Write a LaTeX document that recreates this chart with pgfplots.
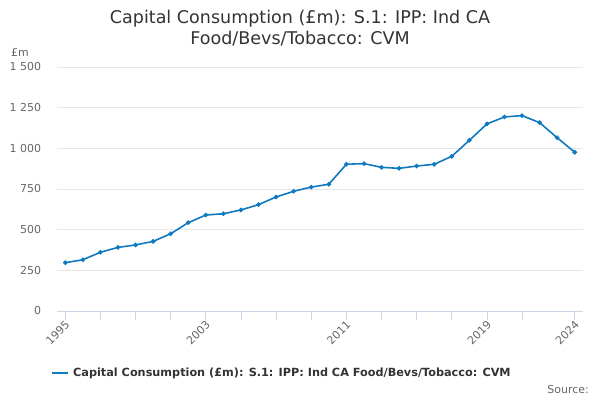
\documentclass[border=0pt]{standalone}
\usepackage{pgfplots}
\pgfplotsset{compat=1.18}
\usepackage{fontspec}
\setmainfont{DejaVu Sans}
\definecolor{linec}{HTML}{0F7AC0}
\definecolor{gridc}{HTML}{E6E6E6}
\definecolor{axisc}{HTML}{CCD6EB}
\definecolor{labc}{HTML}{666666}
\definecolor{titc}{HTML}{333333}
\begin{document}
\begin{tikzpicture}
\path[use as bounding box] (0bp,0bp) rectangle (600bp,400bp);
\begin{axis}[
  at={(57.3bp,89bp)}, anchor=origin,
  scale only axis, width=525.7bp, height=244bp,
  xmin=1994.545, xmax=2024.47, ymin=0, ymax=1500,
  axis x line*=bottom,
  x axis line style={draw=axisc, line width=0.8pt, -},
  axis y line*=left,
  y axis line style={draw=none},
  ytick={0,250,500,750,1000,1250,1500},
  yticklabels={0,250,500,750,1 000,1 250,1 500},
  ymajorgrids, grid style={gridc, line width=0.8pt},
  ytick style={draw=none},
  xtick={1995,2003,2011,2019,2024},
  xticklabels={1995,2003,2011,2019,2024},
  minor xtick={1997,1999,2001,2005,2007,2009,2013,2015,2017,2021},
  xtick style={axisc, line width=0.8pt},
  minor x tick style={axisc, line width=0.8pt},
  tick align=outside, major tick length=9bp, minor tick length=9bp,
  xticklabel style={rotate=45, anchor=north east, font=\fontsize{11}{12}\selectfont, text=labc, inner sep=1pt, xshift=0.5pt, yshift=1.5pt},
  yticklabel style={font=\fontsize{11}{12}\selectfont, text=labc, inner sep=0pt, xshift=-7bp},
  /pgf/number format/assume math mode=true,
  clip=false,
]
\addplot[linec, line width=1.6pt, mark=*, mark size=1.4pt] coordinates {
(1995,297) (1996,315) (1997,361) (1998,391) (1999,406) (2000,428)
(2001,475) (2002,543) (2003,590) (2004,598) (2005,621) (2006,654)
(2007,701) (2008,736) (2009,762) (2010,779) (2011,902) (2012,906)
(2013,883) (2014,877) (2015,891) (2016,902) (2017,951) (2018,1049)
(2019,1150) (2020,1193) (2021,1201) (2022,1158) (2023,1065) (2024,976)
};
\end{axis}
\node[font=\fontsize{17.6}{21}\selectfont, text=titc, align=center] at (300bp,371.5bp) {Capital Consumption (£m): S.1: IPP: Ind CA\\Food/Bevs/Tobacco: CVM};
\node[font=\fontsize{11}{12}\selectfont, text=labc, anchor=west, inner sep=0pt] at (11bp,348bp) {£m};
\draw[linec, line width=1.6pt] (52bp,27bp) -- (68bp,27bp);
\fill[linec] (60bp,27bp) circle (1.4pt);
\node[font=\bfseries\fontsize{11.3}{14}\selectfont, text=titc, anchor=west, inner sep=0pt] at (73bp,27bp) {Capital Consumption (£m): S.1: IPP: Ind CA Food/Bevs/Tobacco: CVM};
\node[font=\fontsize{11}{12}\selectfont, text=labc, anchor=east, inner sep=0pt] at (589bp,10bp) {Source:};
\end{tikzpicture}
\end{document}
